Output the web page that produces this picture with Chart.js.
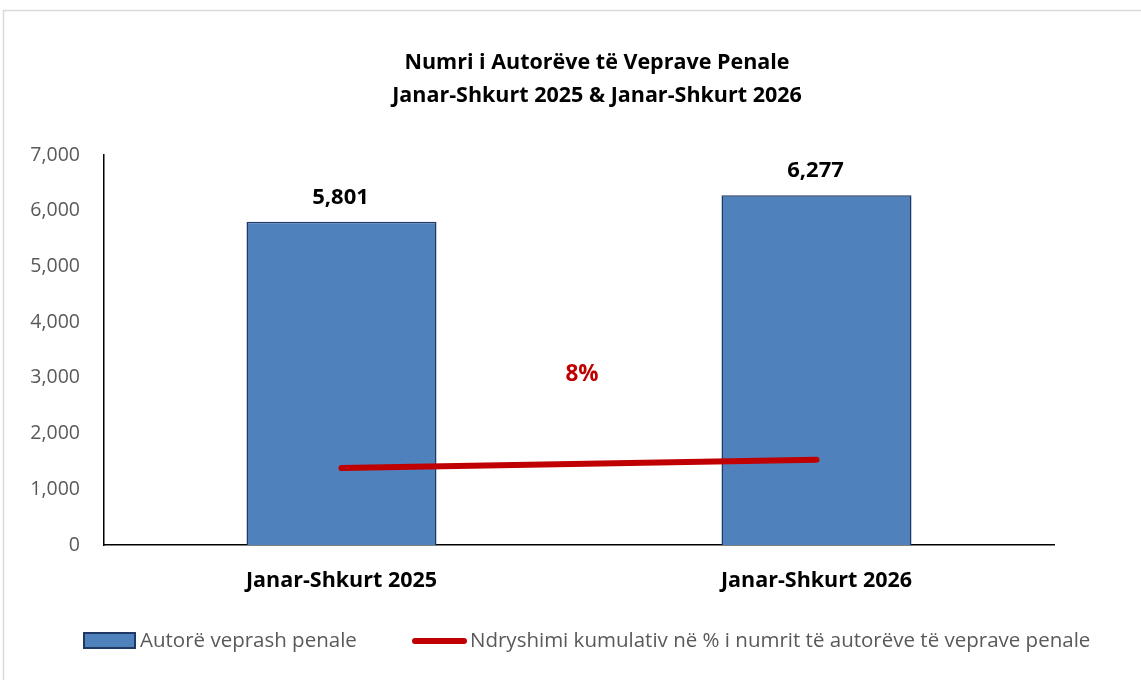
<!DOCTYPE html>
<html>
<head>
<meta charset="utf-8">
<script src="https://cdn.jsdelivr.net/npm/chart.js@4"></script>
<style>
  html, body { margin: 0; padding: 0; background: #fff; }
  #wrap { width: 1141px; height: 680px; }
</style>
</head>
<body>
<div id="wrap"><canvas id="chart" width="1141" height="680"></canvas></div>
<script>
// data
const categories = ["Janar-Shkurt 2025", "Janar-Shkurt 2026"];
const autoreValues = [5801, 6277];
const ndryshimiValues = [1380, 1530];
const changeLabel = "8%";
const yTicks = [0, 1000, 2000, 3000, 4000, 5000, 6000, 7000];
const titleLines = ["Numri i Autorëve të Veprave Penale", "Janar-Shkurt 2025 & Janar-Shkurt 2026"];
const legendNames = ["Autorë veprash penale", "Ndryshimi kumulativ në % i numrit të autorëve të veprave penale"];

const FONT = "'Open Sans', Lato, sans-serif";
const BLUE = "#4F81BD";
const NAVY = "#1F3864";
const RED = "#C00000";
const GREY = "#595959";

const fmt = v => v.toLocaleString("en-US");

// frame, title, value labels, legend
const decor = {
  id: "decor",
  beforeDraw(chart) {
    const ctx = chart.ctx;
    ctx.save();
    ctx.strokeStyle = "#d9d9d9";
    ctx.lineWidth = 1.5;
    ctx.strokeRect(3.5, 10.5, 1300, 800);
    ctx.restore();
  },
  afterDraw(chart) {
    const ctx = chart.ctx;
    const x = chart.scales.x, y = chart.scales.y;
    ctx.save();
    // title
    ctx.fillStyle = "#000";
    ctx.font = "bold 21.5px " + FONT;
    ctx.textAlign = "center";
    ctx.textBaseline = "middle";
    ctx.fillText(titleLines[0], 597, 63);
    ctx.fillText(titleLines[1], 597, 96);

    // bar value labels
    ctx.font = "bold 22px " + FONT;
    ctx.textBaseline = "alphabetic";
    autoreValues.forEach((v, i) => {
      ctx.fillText(fmt(v), x.getPixelForValue(i) - 1, y.getPixelForValue(v) - 18);
    });

    // change label
    ctx.fillStyle = RED;
    const mx = (x.getPixelForValue(0) + x.getPixelForValue(1)) / 2;
    const my = y.getPixelForValue((ndryshimiValues[0] + ndryshimiValues[1]) / 2);
    ctx.font = "bold 22.5px " + FONT;
    ctx.fillText(changeLabel, mx + 3, my - 83);

    // legend
    ctx.fillStyle = BLUE;
    ctx.fillRect(84, 633, 51, 15);
    ctx.strokeStyle = NAVY;
    ctx.lineWidth = 2;
    ctx.strokeRect(84, 633, 51, 15);
    ctx.strokeStyle = RED;
    ctx.lineWidth = 6;
    ctx.lineCap = "round";
    ctx.beginPath();
    ctx.moveTo(415, 641);
    ctx.lineTo(464, 641);
    ctx.stroke();
    ctx.fillStyle = GREY;
    ctx.font = "20.5px " + FONT;
    ctx.textAlign = "left";
    ctx.textBaseline = "middle";
    ctx.fillText(legendNames[0], 140, 641);
    ctx.fillText(legendNames[1], 470, 641);
    ctx.restore();
  }
};

new Chart(document.getElementById("chart"), {
  type: "bar",
  data: {
    labels: categories,
    datasets: [
      {
        type: "line",
        label: legendNames[1],
        data: ndryshimiValues,
        borderColor: RED,
        borderWidth: 6,
        borderCapStyle: "round",
        pointRadius: 0,
        tension: 0,
        order: 0
      },
      {
        label: legendNames[0],
        data: autoreValues,
        backgroundColor: BLUE,
        borderColor: NAVY,
        borderWidth: 1.5,
        barPercentage: 0.4,
        categoryPercentage: 1,
        order: 1
      }
    ]
  },
  options: {
    responsive: false,
    animation: false,
    layout: { padding: { left: 0, top: 155, right: 87, bottom: 0 } },
    plugins: { legend: { display: false }, title: { display: false }, tooltip: { enabled: false } },
    scales: {
      x: {
        grid: { display: false, drawTicks: false },
        border: { color: "#000", width: 1.5 },
        ticks: { color: "#000", font: { family: FONT, size: 21.5, weight: "bold" }, padding: 23 },
        afterFit(s) { s.height = 135; }
      },
      y: {
        min: 0,
        max: 7000,
        grid: { display: false, drawTicks: false },
        border: { color: "#000", width: 1.5 },
        afterBuildTicks(s) { s.ticks = yTicks.map(v => ({ value: v })); },
        ticks: { color: GREY, font: { family: FONT, size: 19.5 }, padding: 24, callback: v => fmt(v) },
        afterFit(s) { s.width = 104; }
      }
    }
  },
  plugins: [decor]
});
</script>
</body>
</html>
